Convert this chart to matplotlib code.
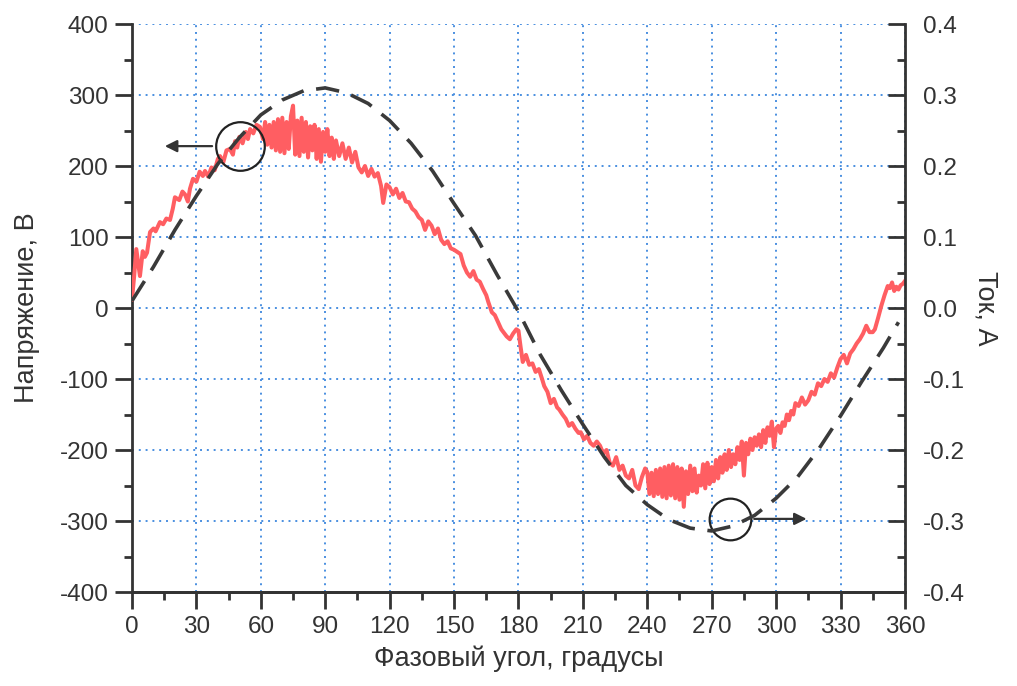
import matplotlib
matplotlib.use("Agg")
import matplotlib.pyplot as plt
from matplotlib.ticker import MultipleLocator

plt.rcParams['font.family'] = ['Liberation Sans', 'DejaVu Sans']
plt.rcParams['axes.unicode_minus'] = False

# voltage trace (deg, V)
volt_deg = [0, 1, 2, 3, 3.7, 5, 6, 7, 8.4, 10, 11, 13, 14.5, 16, 17.7, 19, 20, 22, 23.5, 24.7,
            26, 27, 28.4, 30, 31.5, 33, 34, 35.5, 37, 38.5, 40, 41, 42.5, 44, 45.6, 47, 48, 49, 50,
            51.5, 53, 54, 55, 56.5, 58, 59.6,
            61, 62, 63, 64, 65, 66, 67, 68, 69, 70, 71, 72, 73, 74, 75, 76, 77, 78, 79, 80,
            81, 82, 83, 84, 85, 86, 87, 88, 89, 90, 91, 92, 93, 94, 95,
            96.5, 98, 99.5, 101, 102.5, 104, 105.5, 107, 108.5, 110, 111.5, 113, 114.5, 116, 117,
            118.5, 120, 121.5, 123, 124.5, 126, 127.5, 129, 130.5, 132, 133.5, 135, 136.5, 138,
            139.5, 141, 142.5, 144, 145.5, 147, 148.5, 150, 151.5, 153, 154.5, 156, 157.5, 159,
            160.5, 162, 163.5, 165, 166, 167.6, 169, 170.5, 172, 173, 174.5, 176, 177.5, 179, 180,
            181, 182, 183.5, 185, 186.5, 188, 189.5, 191, 192, 193.5, 195, 196.5, 198, 199, 200.5,
            202, 203.5, 205, 206.5, 208, 209, 210.5, 212, 213.5, 215, 216.5, 218, 219.5, 221,
            222.5, 224, 225.5, 227, 228.5, 230, 231.5, 233, 234.5, 236, 237.5, 239, 240,
            241, 242, 243, 244, 245, 246, 247, 248, 249, 250, 251, 252, 253, 254, 255, 256, 257,
            258, 259, 260, 261, 262, 263, 264, 265, 266, 267, 268, 269, 270, 271, 272, 273, 274,
            275, 276, 277, 278, 279, 280, 281, 282, 283, 284, 285, 286, 287, 288, 289, 290, 291,
            292, 293, 294, 295, 296, 297, 298, 299, 300, 301, 302, 303, 304, 305, 306, 307, 308,
            309, 310.5, 312, 313.5, 315, 316.5, 318, 319.5, 321, 322.5, 324, 325.5, 327, 328.5,
            330, 331.5, 333, 334.5, 336, 337.5, 339, 340.5, 342, 343.5, 345, 346, 347.5, 349,
            350.5, 352, 353, 354, 355, 356, 357, 358, 359, 360]
volt_val = [12, 45, 83, 60, 45, 80, 72, 78, 107, 112, 108, 121, 118, 126, 124, 140, 156, 152, 164, 160,
            150, 168, 182, 178, 192, 186, 193, 185, 198, 194, 210, 214, 205, 222, 224, 216, 235, 226, 241,
            232, 248, 238, 252, 246, 258, 255,
            238, 262, 230, 258, 226, 262, 222, 266, 220, 268, 218, 262, 224, 270, 285, 216, 264, 214, 268, 220,
            262, 212, 256, 222, 258, 210, 252, 206, 248, 220, 252, 214, 240, 210, 236,
            214, 232, 210, 226, 205, 220, 198, 191, 200, 186, 196, 185, 190, 172, 148,
            174, 170, 160, 168, 155, 162, 150, 149, 140, 136, 128, 124, 110, 122,
            116, 104, 112, 96, 90, 94, 84, 82, 79, 76, 60, 50, 44, 52,
            40, 37, 27, 18, 8, -6, -10, -20, -30, -34, -40, -44, -36, -30, -32,
            -55, -76, -66, -80, -78, -90, -86, -100, -110, -118, -134, -128, -140, -143, -150,
            -156, -166, -162, -170, -176, -175, -185, -180, -190, -194, -188, -194, -205, -200,
            -218, -222, -210, -228, -222, -236, -240, -228, -250, -255, -238, -226, -231,
            -262, -232, -265, -228, -262, -226, -266, -224, -268, -222, -264, -220, -268, -224, -270, -226, -280,
            -230, -262, -222, -258, -226, -260, -236, -250, -220, -254, -218, -248, -224, -244, -214, -240, -210,
            -232, -206, -228, -200, -224, -206, -220, -196, -214, -188, -236, -190, -206, -184, -200, -182, -194,
            -178, -196, -172, -190, -168, -180, -160, -196, -170, -166, -176, -161, -166, -150, -158, -145, -150,
            -134, -138, -126, -136, -130, -118, -122, -106, -110, -100, -104, -92, -98, -84,
            -72, -66, -78, -64, -58, -50, -44, -36, -25, -34, -34, -30, -14, 3,
            18, 31, 28, 36, 24, 30, 26, 32, 34, 38]

# current (deg, A), dashed curve
curr_deg = [0, 10, 20, 30, 40, 50, 60, 70, 80, 90, 100, 110, 120, 130, 140, 150, 160, 170, 180,
            190, 200, 210, 220, 230, 240, 250, 260, 270, 280, 290, 300, 310, 320, 330, 340, 350, 357]
curr_val = [0.01, 0.058, 0.11, 0.158, 0.203, 0.24, 0.272, 0.293, 0.306, 0.31, 0.303, 0.288, 0.264,
            0.232, 0.193, 0.147, 0.102, 0.047, -0.005, -0.065, -0.116, -0.164, -0.21, -0.25, -0.277,
            -0.298, -0.31, -0.314, -0.307, -0.292, -0.268, -0.238, -0.198, -0.152, -0.103, -0.056, -0.02]

x_ticks = list(range(0, 361, 30))
v_ticks = list(range(-400, 401, 100))
i_ticks = [-0.4, -0.3, -0.2, -0.1, 0.0, 0.1, 0.2, 0.3, 0.4]

ink = '#333333'
fig = plt.figure(figsize=(10.17, 6.86), dpi=100)
ax = fig.add_axes([0.1298, 0.137, 0.760, 0.828])
ax2 = ax.twinx()

ax.grid(True, color='#4a8fe0', linestyle=(0, (1, 2.5)), linewidth=1.4)
ax.set_axisbelow(True)

ax.plot(volt_deg, volt_val, color='#ff5e62', linewidth=2.9, zorder=3)
ax2.plot(curr_deg, curr_val, color='#3a3a3a', linewidth=2.6, dashes=(6.5, 3.5), zorder=4)

ax.set_xlim(0, 360)
ax.set_ylim(-400, 400)
ax2.set_ylim(-0.4, 0.4)
ax.set_xticks(x_ticks)
ax.set_yticks(v_ticks)
ax2.set_yticks(i_ticks)
ax2.set_yticklabels(['%.1f' % t for t in i_ticks])
ax.xaxis.set_minor_locator(MultipleLocator(15))
ax.yaxis.set_minor_locator(MultipleLocator(50))
ax2.yaxis.set_minor_locator(MultipleLocator(0.05))

for a in (ax, ax2):
    a.spines['top'].set_visible(False)
    for s in a.spines.values():
        s.set_color(ink)
        s.set_linewidth(2)
ax2.spines['left'].set_visible(False)
ax.spines['right'].set_visible(False)

ax.tick_params(axis='both', which='major', direction='out', length=12, width=2,
               color=ink, labelcolor=ink, labelsize=17.5, pad=5)
ax.tick_params(axis='both', which='minor', direction='out', length=6, width=2, color=ink)
ax2.tick_params(axis='y', which='major', direction='in', length=12, width=2,
                color=ink, labelcolor=ink, labelsize=17.5, pad=13)
ax2.tick_params(axis='y', which='minor', direction='in', length=6, width=2, color=ink)

ax.set_xlabel('Фазовый угол, градусы', fontsize=19.5, color=ink, labelpad=6)
ax.set_ylabel('Напряжение, В', fontsize=19.5, color=ink, labelpad=14)
ax2.set_ylabel('Ток, А', fontsize=19.5, color=ink, rotation=270, labelpad=24)

# circles with arrows marking which axis each curve belongs to
ax.plot([50.3], [228], marker='o', markersize=35, markerfacecolor='none',
        markeredgecolor='#222222', markeredgewidth=1.6, zorder=5)
ax.annotate('', xy=(14.0, 228), xytext=(38.6, 228),
            arrowprops=dict(arrowstyle='-|>', color='#333333', lw=1.6, mutation_scale=18))
ax.plot([278.5], [-297], marker='o', markersize=30, markerfacecolor='none',
        markeredgecolor='#222222', markeredgewidth=1.6, zorder=5)
ax.annotate('', xy=(315.5, -297), xytext=(288.5, -297),
            arrowprops=dict(arrowstyle='-|>', color='#333333', lw=1.6, mutation_scale=18))

fig.savefig('out.png', dpi=100)
